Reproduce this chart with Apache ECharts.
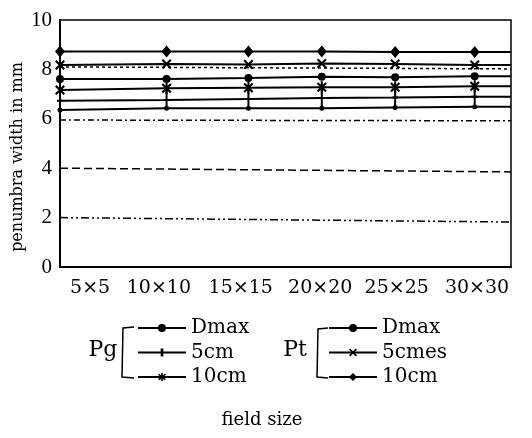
<!DOCTYPE html>
<html>
<head>
<meta charset="utf-8">
<script src="https://cdn.jsdelivr.net/npm/echarts@6/dist/echarts.min.js"></script>
<style>
  html, body { margin: 0; padding: 0; background: #fff; }
  #chart { width: 532px; height: 438px; }
</style>
</head>
<body>
<div id="chart"></div>
<script>
// x axis is a plain value axis; 5x5 marker sits on the y axis in the original
const xMin = 3;
const xMax = 32.2;
const fieldLabels = ['5×5', '10×10', '15×15', '20×20', '25×25', '30×30'];
const labelPos = [4.95, 9.4, 14.7, 19.85, 24.8, 30];
const markerPos = [3, 9.9, 15.2, 19.95, 24.7, 29.85];

const pgDmax = [6.36, 6.43, 6.43, 6.43, 6.46, 6.49];
const pg5cm = [6.73, 6.76, 6.8, 6.84, 6.86, 6.89];
const pg10cm = [7.17, 7.24, 7.26, 7.28, 7.28, 7.32];
const ptDmax = [7.61, 7.61, 7.65, 7.7, 7.68, 7.72];
const pt5cmes = [8.18, 8.22, 8.2, 8.24, 8.22, 8.18];
const pt10cm = [8.72, 8.72, 8.72, 8.72, 8.7, 8.7];

// unlabelled reference lines, value at left edge and right edge
const ref8 = [8.1, 8.02];
const ref6 = [5.95, 5.92];
const ref4 = [4.0, 3.85];
const ref2 = [2.0, 1.82];

const yTicks = [0, 2, 4, 6, 8, 10];

const plusPath = 'path://M-1,-10 L1,-10 L1,10 L-1,10 Z M-3,-1 L3,-1 L3,1 L-3,1 Z';
const starPath = 'path://M-5,-3.5 L-3.5,-5 L5,3.5 L3.5,5 Z M3.5,-5 L5,-3.5 L-3.5,5 L-5,3.5 Z M-1,-6 L1,-6 L1,6 L-1,6 Z';
const crossPath = 'path://M-5,-3.5 L-3.5,-5 L5,3.5 L3.5,5 Z M3.5,-5 L5,-3.5 L-3.5,5 L-5,3.5 Z';

function mainSeries(name, values, symbol, size) {
  const data = markerPos.map((x, i) => [x, values[i]]);
  data.push({ value: [xMax, values[values.length - 1]], symbol: 'none' });
  return {
    name: name,
    type: 'line',
    data: data,
    symbol: symbol,
    symbolSize: size,
    showAllSymbol: true,
    clip: false,
    lineStyle: { color: '#000', width: 2 },
    itemStyle: { color: '#000' },
    emphasis: { disabled: true }
  };
}

function refSeries(name, values, dash) {
  return {
    name: name,
    type: 'line',
    data: [[xMin, values[0]], [xMax, values[1]]],
    symbol: 'none',
    lineStyle: { color: '#000', width: 1.5, type: dash },
    emphasis: { disabled: true }
  };
}

const chart = echarts.init(document.getElementById('chart'));

const legendText = {
  fontFamily: 'DejaVu Serif',
  fontSize: 20,
  color: '#000',
  lineHeight: 20
};
const stripGroup = (name) => name.replace(/^P[gt] /, '');

chart.setOption({
  animation: false,
  backgroundColor: '#fff',
  grid: {
    left: 60, right: 21, top: 20, bottom: 171,
    show: true, borderColor: '#000', borderWidth: 1.5
  },
  xAxis: {
    type: 'value',
    min: xMin,
    max: xMax,
    splitLine: { show: false },
    axisTick: { show: false },
    axisLine: { lineStyle: { color: '#000', width: 2 } },
    axisLabel: {
      customValues: labelPos,
      margin: 12,
      color: '#000',
      fontFamily: 'DejaVu Serif',
      fontSize: 19,
      formatter: (v) => {
        let best = 0;
        labelPos.forEach((p, i) => {
          if (Math.abs(p - v) < Math.abs(labelPos[best] - v)) best = i;
        });
        return fieldLabels[best];
      }
    }
  },
  yAxis: {
    type: 'value',
    min: 0,
    max: 10,
    interval: 2,
    splitLine: { show: false },
    axisTick: { show: false },
    axisLine: { show: true, lineStyle: { color: '#000', width: 2 } },
    axisLabel: {
      color: '#000',
      fontFamily: 'Liberation Serif',
      fontSize: 21,
      margin: 8,
      formatter: (v) => (yTicks.includes(v) ? String(v) : '')
    }
  },
  legend: [
    {
      data: ['Pg Dmax', 'Pg 5cm', 'Pg 10cm'],
      left: 137, top: 318,
      orient: 'vertical',
      itemWidth: 48, itemHeight: 10, itemGap: 4.5,
      padding: 0,
      selectedMode: false,
      formatter: stripGroup,
      textStyle: legendText
    },
    {
      data: ['Pt Dmax', 'Pt 5cmes', 'Pt 10cm'],
      left: 328, top: 318,
      orient: 'vertical',
      itemWidth: 48, itemHeight: 10, itemGap: 4.5,
      padding: 0,
      selectedMode: false,
      formatter: stripGroup,
      textStyle: legendText
    }
  ],
  graphic: [
    {
      type: 'text', x: 18, y: 157, rotation: Math.PI / 2,
      style: {
        text: 'penumbra width in mm', fill: '#000',
        font: '16px "DejaVu Serif"', textAlign: 'center', textVerticalAlign: 'middle'
      }
    },
    {
      type: 'text', x: 262, y: 420,
      style: {
        text: 'field size', fill: '#000',
        font: '18px "DejaVu Serif"', textAlign: 'center', textVerticalAlign: 'middle'
      }
    },
    {
      type: 'text', x: 103, y: 350,
      style: {
        text: 'Pg', fill: '#000',
        font: '22px "DejaVu Serif"', textAlign: 'center', textVerticalAlign: 'middle'
      }
    },
    {
      type: 'text', x: 295, y: 350,
      style: {
        text: 'Pt', fill: '#000',
        font: '22px "DejaVu Serif"', textAlign: 'center', textVerticalAlign: 'middle'
      }
    },
    {
      type: 'polyline',
      shape: { points: [[134, 327], [123, 328], [122, 377], [134, 378]] },
      style: { stroke: '#000', lineWidth: 1.5, fill: null }
    },
    {
      type: 'polyline',
      shape: { points: [[328, 328], [318, 329], [317, 377], [328, 378]] },
      style: { stroke: '#000', lineWidth: 1.5, fill: null }
    }
  ],
  series: [
    refSeries('ref8', ref8, [3, 3]),
    refSeries('ref6', ref6, [6, 3, 2, 3]),
    refSeries('ref4', ref4, [8, 4]),
    refSeries('ref2', ref2, [8, 3, 2, 3, 2, 3]),
    mainSeries('Pg Dmax', pgDmax, 'circle', 5),
    mainSeries('Pg 5cm', pg5cm, plusPath, [6, 20]),
    mainSeries('Pg 10cm', pg10cm, starPath, [10, 12]),
    mainSeries('Pt Dmax', ptDmax, 'circle', 8),
    mainSeries('Pt 5cmes', pt5cmes, crossPath, 10),
    mainSeries('Pt 10cm', pt10cm, 'diamond', [10, 12])
  ]
});
</script>
</body>
</html>
